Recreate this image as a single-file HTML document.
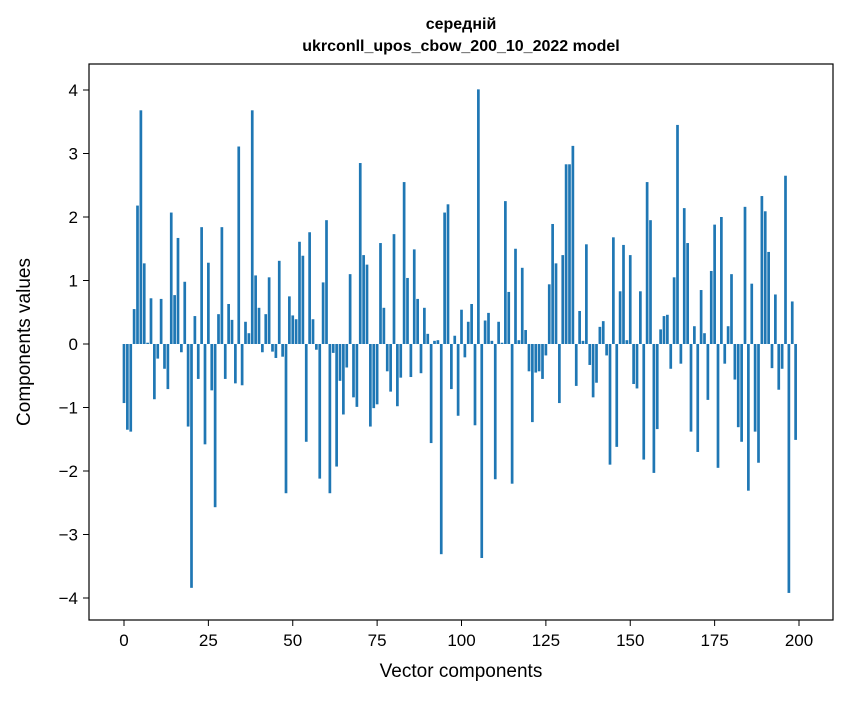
<!DOCTYPE html>
<html><head><meta charset="utf-8"><style>
body{margin:0;background:#fff;font-family:"Liberation Sans","DejaVu Sans",sans-serif}
</style></head><body>
<svg width="847" height="696" xmlns="http://www.w3.org/2000/svg">
<text x="461" y="29" text-anchor="middle" font-weight="bold" font-size="16">середній</text>
<text x="461" y="51" text-anchor="middle" font-weight="bold" font-size="16">ukrconll_upos_cbow_200_10_2022 model</text>
<g id="bars"></g>
<rect x="89" y="64" width="744" height="556" fill="none" stroke="#000" stroke-width="1.2"/>
<g id="xt"></g>
<g id="yt"></g>
<text x="461" y="677" text-anchor="middle" font-size="19">Vector components</text>
<text transform="translate(30,342) rotate(-90)" text-anchor="middle" font-size="19">Components values</text>
</svg>
<script>
const values=[-0.93,-1.35,-1.38,0.55,2.18,3.68,1.27,0.02,0.72,-0.87,-0.23,0.71,-0.39,-0.71,2.07,0.77,1.67,-0.13,0.98,-1.30,
-3.84,0.44,-0.55,1.84,-1.58,1.28,-0.73,-2.57,0.47,1.84,-0.55,0.63,0.38,-0.62,3.11,-0.65,0.35,0.17,3.68,1.08,
0.57,-0.13,0.47,1.05,-0.12,-0.22,1.31,-0.20,-2.35,0.75,0.45,0.39,1.61,1.39,-1.54,1.76,0.39,-0.09,-2.12,0.97,1.95,
-2.35,-0.14,-1.93,-0.58,-1.11,-0.37,1.10,-0.84,-0.99,2.85,1.40,1.25,-1.30,-1.01,-0.95,1.59,0.57,-0.43,-0.75,1.73,
-0.98,-0.53,2.55,1.04,-0.52,1.49,0.71,-0.46,0.57,0.16,-1.56,0.05,0.06,-3.31,2.07,2.20,-0.71,0.13,-1.13,0.54,
-0.21,0.35,0.63,-1.28,4.01,-3.37,0.37,0.49,0.05,-2.13,0.35,0.02,2.25,0.82,-2.20,1.50,0.06,1.20,0.22,-0.43,
-1.23,-0.45,-0.43,-0.55,-0.18,0.94,1.89,1.27,-0.93,1.40,2.83,2.83,3.12,-0.66,0.52,0.05,1.57,-0.33,-0.84,-0.61,
0.27,0.36,-0.18,-1.90,1.68,-1.62,0.83,1.56,0.06,1.40,-0.63,-0.70,0.83,-1.82,2.55,1.95,-2.03,-1.34,0.23,0.44,
0.46,-0.39,1.05,3.45,-0.31,2.14,1.59,-1.38,0.28,-1.70,0.85,0.17,-0.88,1.15,1.88,-1.95,2.00,-0.31,0.28,1.10,
-0.56,-1.31,-1.54,2.16,-2.31,0.95,-1.38,-1.87,2.33,2.09,1.45,-0.38,0.78,-0.72,-0.39,2.65,-3.92,0.67,-1.51];
const xTicks=[0,25,50,75,100,125,150,175,200];
const yTicks=[-4,-3,-2,-1,0,1,2,3,4];
const NS="http://www.w3.org/2000/svg";
function xs(v){return 124+v*3.375;}
function ys(v){return 344-v*63.5;}
const bg=document.getElementById('bars');
values.forEach((v,i)=>{
 const r=document.createElementNS(NS,'rect');
 
 
 const y0=ys(0),y1=ys(v);
 r.setAttribute('x',xs(i-0.4));r.setAttribute('width',3.375*0.8);
 r.setAttribute('y',Math.min(y0,y1));r.setAttribute('height',Math.abs(y1-y0));
 r.setAttribute('fill','#1f77b4');bg.appendChild(r);
});
const xg=document.getElementById('xt');
xTicks.forEach(t=>{
 const l=document.createElementNS(NS,'line');
 
 
 l.setAttribute('x1',xs(t));l.setAttribute('x2',xs(t));l.setAttribute('y1',620);l.setAttribute('y2',626);l.setAttribute('stroke','#000');xg.appendChild(l);
 const tx=document.createElementNS(NS,'text');
 
 
 tx.setAttribute('x',xs(t));tx.setAttribute('y',646);tx.setAttribute('text-anchor','middle');tx.setAttribute('font-size','17');tx.textContent=t;xg.appendChild(tx);
});
const yg=document.getElementById('yt');
yTicks.forEach(t=>{
 const l=document.createElementNS(NS,'line');
 
 
 l.setAttribute('x1',83);l.setAttribute('x2',89);l.setAttribute('y1',ys(t));l.setAttribute('y2',ys(t));l.setAttribute('stroke','#000');yg.appendChild(l);
 const tx=document.createElementNS(NS,'text');
 
 
 tx.setAttribute('x',78);tx.setAttribute('y',ys(t)+6);tx.setAttribute('text-anchor','end');tx.setAttribute('font-size','17');tx.textContent=t<0?'\u2212'+(-t):t;yg.appendChild(tx);
});
</script>
</body></html>
